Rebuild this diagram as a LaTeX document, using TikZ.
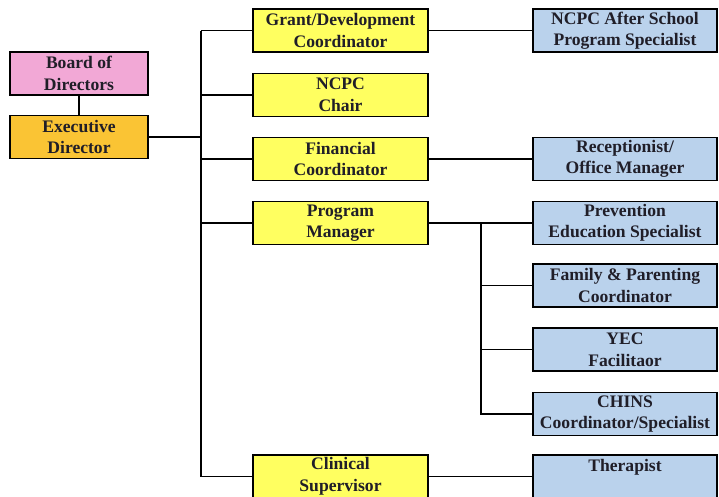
\documentclass[tikz,border=0pt]{standalone}
\usepackage{fontspec}
\setmainfont{Liberation Serif}
\definecolor{boardpink}{RGB}{242,168,214}
\definecolor{execgold}{RGB}{250,196,52}
\definecolor{leadyellow}{RGB}{255,255,96}
\definecolor{staffblue}{RGB}{186,210,236}
\definecolor{inkdark}{RGB}{32,30,40}

\begin{document}
\begin{tikzpicture}[x=1pt, y=-1pt, line width=1.8pt,
        main/.style = {draw, line width=1.4pt, minimum height=43pt, inner sep=1pt, align=center,
                       text=inkdark, font=\fontsize{17.6}{21.5}\selectfont\bfseries},
        head/.style = {main, minimum width=138pt},
        lead/.style = {main, fill=leadyellow, minimum width=175pt},
        staff/.style = {main, fill=staffblue, minimum width=184pt}]
        \clip (0,0) rectangle (719,496);
        \useasboundingbox (0,0) rectangle (719,496);
        % left column
        \node[head, fill=boardpink] (board) at (79,73.5) {Board of\\Directors};
        \node[head, fill=execgold] (exec) at (79,137) {Executive\\Director};
        % middle column
        \node[lead] (grant) at (340.5,30.5) {Grant/Development\\Coordinator};
        \node[lead] (ncpc) at (340.5,95) {NCPC\\Chair};
        \node[lead] (fin) at (340.5,159) {Financial\\Coordinator};
        \node[lead] (prog) at (340.5,223) {Program\\Manager};
        \node[lead] (clin) at (340.5,476.5) {Clinical\\Supervisor};
        % right column
        \node[staff] (after) at (625,30.5) {NCPC After School\\Program Specialist};
        \node[staff] (recep) at (625,159) {Receptionist/\\Office Manager};
        \node[staff] (prev) at (625,223) {Prevention\\Education Specialist};
        \node[staff] (fam) at (625,285.5) {Family \& Parenting\\Coordinator};
        \node[staff] (yec) at (625,349.5) {YEC\\Facilitaor};
        \node[staff] (chins) at (625,414) {CHINS\\Coordinator/Specialist};
        \node[staff] (ther) at (625,476.5) {Therapist\\~};
        % trunks
        \coordinate (trunk) at (201,0);
        \coordinate (sub) at (481,0);
        \draw (board) -- (exec);
        \draw (exec.east) -- (exec.east -| trunk);
        \draw (grant.west -| trunk) -- (clin.west -| trunk);
        \draw (grant.west -| trunk) -- (grant.west);
        \draw (ncpc.west -| trunk) -- (ncpc.west);
        \draw (fin.west -| trunk) -- (fin.west);
        \draw (prog.west -| trunk) -- (prog.west);
        \draw (clin.west -| trunk) -- (clin.west);
        \draw (grant) -- (after);
        \draw (fin) -- (recep);
        \draw (prog) -- (prev);
        \draw (clin) -- (ther);
        \draw (prog.east -| sub) |- (chins.west);
        \draw (fam.west -| sub) -- (fam.west);
        \draw (yec.west -| sub) -- (yec.west);
\end{tikzpicture}
\end{document}
